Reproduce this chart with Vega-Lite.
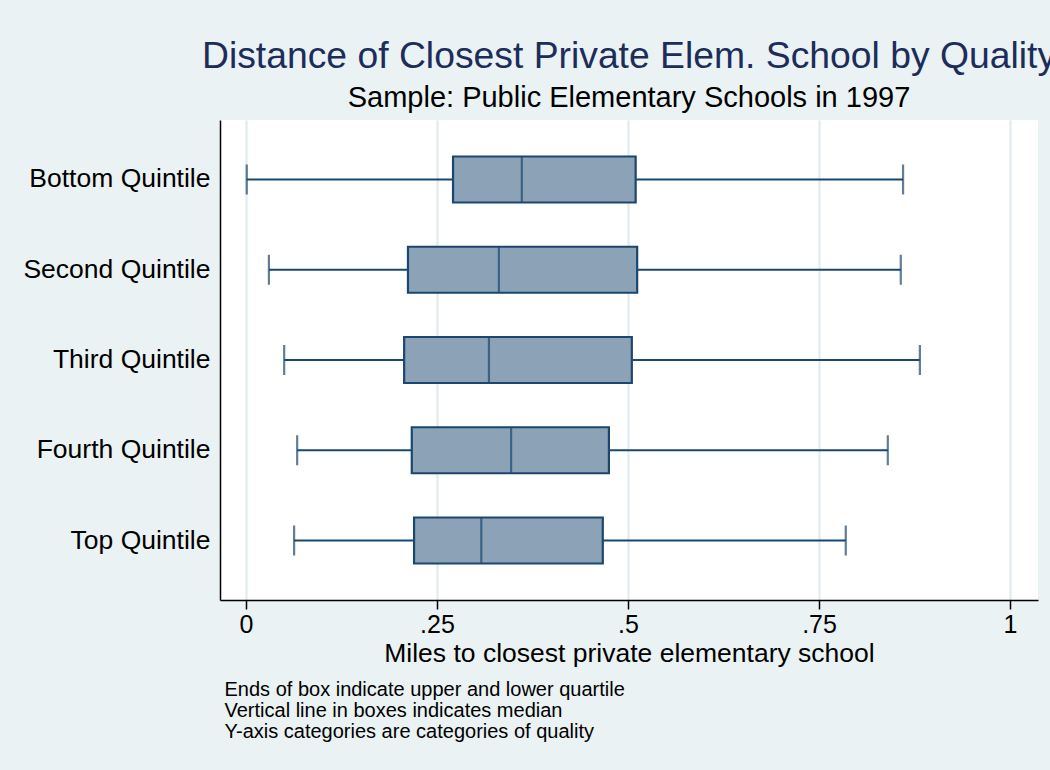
{
  "$schema": "https://vega.github.io/schema/vega-lite/v6.json",
  "autosize": {"type": "none"},
  "padding": {"left": 220, "top": 120, "right": 12, "bottom": 170},
  "width": 818,
  "height": 480,
  "background": "#eaf2f3",
  "title": {
    "text": "Distance of Closest Private Elem. School by Quality",
    "subtitle": "Sample: Public Elementary Schools in 1997",
    "anchor": "middle",
    "frame": "group",
    "font": "Liberation Sans",
    "fontSize": 37.3,
    "fontWeight": "normal",
    "color": "#1c2d5c",
    "subtitleFont": "Liberation Sans",
    "subtitleFontSize": 29,
    "subtitleColor": "#000000",
    "subtitlePadding": 8,
    "offset": 6
  },
  "config": {
    "view": {"fill": "#ffffff", "stroke": null},
    "font": "Liberation Sans"
  },
  "data": {
    "values": [
      {"group": "Bottom Quintile", "min": 0.001, "q1": 0.271, "median": 0.361, "q3": 0.510, "max": 0.860},
      {"group": "Second Quintile", "min": 0.030, "q1": 0.212, "median": 0.331, "q3": 0.512, "max": 0.857},
      {"group": "Third Quintile", "min": 0.050, "q1": 0.207, "median": 0.318, "q3": 0.505, "max": 0.882},
      {"group": "Fourth Quintile", "min": 0.067, "q1": 0.217, "median": 0.347, "q3": 0.475, "max": 0.840},
      {"group": "Top Quintile", "min": 0.063, "q1": 0.220, "median": 0.308, "q3": 0.467, "max": 0.785}
    ]
  },
  "encoding": {
    "y": {
      "field": "group",
      "type": "nominal",
      "sort": ["Bottom Quintile", "Second Quintile", "Third Quintile", "Fourth Quintile", "Top Quintile"],
      "scale": {"type": "band", "paddingInner": 0.49, "paddingOuter": 0.404},
      "axis": {
        "title": ["Ends of box indicate upper and lower quartile", "Vertical line in boxes indicates median", "Y-axis categories are categories of quality"],
        "titleAngle": 0,
        "titleAlign": "left",
        "titleBaseline": "top",
        "titleX": 4,
        "titleY": 559,
        "titleFontSize": 20,
        "titleLineHeight": 21,
        "titleFontWeight": "normal",
        "titleColor": "#000000",
        "titleFont": "Liberation Sans",
        "ticks": false,
        "labelPadding": 10,
        "labelLimit": 400,
        "labelFontSize": 26.5,
        "labelColor": "#000000",
        "labelFont": "Liberation Sans",
        "domainColor": "#000000",
        "domainWidth": 1.5,
        "grid": false
      }
    }
  },
  "layer": [
    {
      "mark": {"type": "rule", "color": "#1a476f", "strokeWidth": 2.2},
      "encoding": {
        "x": {
          "field": "min",
          "type": "quantitative",
          "scale": {"domain": [-0.034, 1.0366], "nice": false, "zero": false},
          "axis": {
            "title": "Miles to closest private elementary school",
            "titleFontSize": 26.5,
            "titleFontWeight": "normal",
            "titleColor": "#000000",
            "titleFont": "Liberation Sans",
            "titlePadding": 3,
            "values": [0, 0.25, 0.5, 0.75, 1],
            "labelExpr": "datum.value == 0 ? '0' : datum.value == 0.25 ? '.25' : datum.value == 0.5 ? '.5' : datum.value == 0.75 ? '.75' : '1'",
            "labelFontSize": 25,
            "labelColor": "#000000",
            "labelFont": "Liberation Sans",
            "labelPadding": 3,
            "tickColor": "#000000",
            "tickSize": 9,
            "tickWidth": 1.5,
            "domainColor": "#000000",
            "domainWidth": 1.5,
            "grid": true,
            "gridColor": "#e4edf0",
            "gridWidth": 2.5
          }
        },
        "x2": {"field": "max"}
      }
    },
    {
      "mark": {"type": "tick", "color": "#1a476f", "thickness": 2.2, "size": 30},
      "encoding": {"x": {"field": "min", "type": "quantitative"}}
    },
    {
      "mark": {"type": "tick", "color": "#1a476f", "thickness": 2.2, "size": 30},
      "encoding": {"x": {"field": "max", "type": "quantitative"}}
    },
    {
      "mark": {"type": "bar", "fill": "#8ca3b7", "stroke": "#1a476f", "strokeWidth": 2.2, "size": 46},
      "encoding": {
        "x": {"field": "q1", "type": "quantitative"},
        "x2": {"field": "q3"}
      }
    },
    {
      "mark": {"type": "tick", "color": "#1a476f", "thickness": 2.2, "size": 46},
      "encoding": {"x": {"field": "median", "type": "quantitative"}}
    }
  ]
}
